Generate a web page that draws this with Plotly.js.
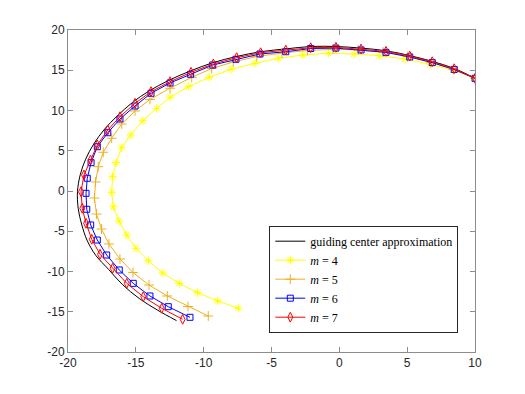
<!DOCTYPE html>
<html>
<head>
<meta charset="utf-8">
<script src="https://cdn.plot.ly/plotly-3.0.1.min.js"></script>
<style>
  body { margin: 0; background: #fff; }
  #plot { width: 525px; height: 394px; }
</style>
</head>
<body>
<div id="plot"></div>
<script>
// guiding center approximation (black line)
let gcX = [10, 8.47, 6.85, 5.19, 3.44, 1.6, -0.25, -2.11, -3.95, -5.8, -7.6, -9.35, -11.0, -12.6, -14.0, -15.25, -16.35, -17.3, -18.1, -18.7, -19.1, -19.3, -19.25, -19.0, -18.6, -17.95, -17.0, -16.0, -14.75, -13.4, -12.0];
let gcY = [14.0, 15.22, 16.1, 16.82, 17.42, 17.75, 17.95, 17.95, 17.65, 17.3, 16.7, 15.92, 14.9, 13.72, 12.45, 11.0, 9.35, 7.7, 5.85, 3.95, 2.0, -0.05, -2.15, -4.1, -6.1, -8.0, -9.75, -11.6, -13.35, -14.8, -16.1];

// m = 4
let m4X = [10, 8.4, 6.68, 4.84, 2.95, 1.1, -0.81, -2.7, -4.5, -6.22, -7.99, -9.59, -11.13, -12.48, -13.46, -14.49, -15.38, -16.04, -16.46, -16.71, -16.78, -16.66, -16.24, -15.67, -14.99, -14.08, -13.02, -11.8, -10.44, -8.97, -7.45];
let m4Y = [14.0, 15.03, 15.74, 16.4, 16.81, 17.02, 17.11, 16.89, 16.48, 15.86, 15.12, 14.12, 12.96, 11.64, 10.27, 8.73, 6.96, 5.38, 3.52, 1.78, -0.16, -1.95, -3.73, -5.47, -7.12, -8.66, -10.19, -11.47, -12.63, -13.66, -14.57];

// m = 5
let m5X = [10, 8.41, 6.76, 5.02, 3.22, 1.38, -0.47, -2.35, -4.23, -6.09, -7.82, -9.41, -10.88, -12.48, -13.96, -15.06, -16.04, -16.78, -17.4, -17.77, -17.97, -18.05, -17.9, -17.53, -16.98, -16.17, -15.21, -14.03, -12.68, -11.15, -9.66];
let m5Y = [14.0, 15.09, 15.96, 16.71, 17.27, 17.54, 17.6, 17.45, 17.14, 16.71, 16.02, 15.22, 14.12, 12.76, 11.37, 9.94, 8.32, 6.55, 4.81, 3.02, 1.12, -0.87, -2.86, -4.72, -6.58, -8.45, -10.12, -11.68, -13.04, -14.35, -15.53];

// m = 6
let m6X = [10, 8.47, 6.85, 5.19, 3.44, 1.6, -0.25, -2.11, -3.95, -5.85, -7.62, -9.33, -10.96, -12.48, -13.88, -15.06, -16.17, -17.07, -17.84, -18.3, -18.58, -18.67, -18.62, -18.33, -17.84, -17.15, -16.22, -15.19, -13.96, -12.61, -11.01];
let m6Y = [14.0, 15.1, 15.95, 16.65, 17.22, 17.52, 17.75, 17.7, 17.3, 17.02, 16.36, 15.65, 14.5, 13.42, 12.14, 10.56, 8.94, 7.24, 5.5, 3.52, 1.58, -0.29, -2.27, -4.22, -6.09, -7.95, -9.81, -11.47, -13.04, -14.37, -15.69];

// m = 7
let m7X = [10, 8.47, 6.85, 5.19, 3.44, 1.6, -0.25, -2.11, -3.95, -5.8, -7.57, -9.29, -10.93, -12.48, -13.88, -15.06, -16.17, -17.07, -17.84, -18.34, -18.82, -19.04, -18.95, -18.67, -18.25, -17.64, -16.71, -15.67, -14.45, -13.09, -11.55];
let m7Y = [14.0, 15.19, 16.06, 16.77, 17.35, 17.64, 17.85, 17.8, 17.5, 17.18, 16.56, 15.78, 14.75, 13.58, 12.34, 10.89, 9.23, 7.58, 5.71, 3.85, 1.99, -0.09, -2.15, -4.01, -6.0, -7.86, -9.6, -11.47, -13.13, -14.57, -15.94];

// tick values and labels (plain hyphen like the original)
let xTickVals = [-20, -15, -10, -5, 0, 5, 10];
let xTickText = ["-20", "-15", "-10", "-5", "0", "5", "10"];
let yTickVals = [-20, -15, -10, -5, 0, 5, 10, 15, 20];
let yTickText = ["-20", "-15", "-10", "-5", "0", "5", "10", "15", "20"];

// Trace1 guiding center
let trace1 = {
    x: gcX,
    y: gcY,
    name: "guiding center approximation",
    mode: "lines",
    line: {color: "#000000", width: 1, shape: "spline"},
    type: "scatter"
};

// Trace2 m = 4
let trace2 = {
    x: m4X,
    y: m4Y,
    name: "<i>m</i> = 4",
    mode: "lines+markers",
    line: {color: "#ffff00", width: 1},
    marker: {symbol: "asterisk-open", size: 7, line: {color: "#ffff00", width: 1}},
    type: "scatter"
};

// Trace3 m = 5
let trace3 = {
    x: m5X,
    y: m5Y,
    name: "<i>m</i> = 5",
    mode: "lines+markers",
    line: {color: "#edb120", width: 1},
    marker: {symbol: "cross-thin-open", size: 7, line: {color: "#edb120", width: 1}},
    type: "scatter"
};

// Trace4 m = 6
let trace4 = {
    x: m6X,
    y: m6Y,
    name: "<i>m</i> = 6",
    mode: "lines+markers",
    line: {color: "#0000ff", width: 1},
    marker: {symbol: "square-open", size: 6, color: "#0000ff", line: {color: "#0000ff", width: 1}},
    type: "scatter"
};

// Trace5 m = 7
let trace5 = {
    x: m7X,
    y: m7Y,
    name: "<i>m</i> = 7",
    mode: "lines+markers",
    line: {color: "#ff0000", width: 1},
    marker: {symbol: "diamond-tall-open", size: 7, color: "#ff0000", line: {color: "#ff0000", width: 1}},
    type: "scatter"
};

let data = [trace1, trace2, trace3, trace4, trace5];

let axisStyle = {
    showgrid: false,
    zeroline: false,
    showline: true,
    mirror: "ticks",
    linecolor: "#8c8c8c",
    linewidth: 1,
    ticks: "inside",
    ticklen: 5,
    tickcolor: "#8c8c8c",
    tickwidth: 1,
    tickmode: "array",
    tickfont: {family: "Liberation Sans, Arial, sans-serif", size: 12, color: "#262626"}
};

let layout = {
    width: 525,
    height: 394,
    margin: {l: 68, r: 50, t: 30, b: 42},
    paper_bgcolor: "#ffffff",
    plot_bgcolor: "#ffffff",
    showlegend: true,
    hovermode: false,
    xaxis: Object.assign({}, axisStyle, {range: [-20, 10], tickvals: xTickVals, ticktext: xTickText}),
    yaxis: Object.assign({}, axisStyle, {range: [-20, 20], tickvals: yTickVals, ticktext: yTickText}),
    legend: {
        x: 0.4946,
        y: 0.06,
        xanchor: "left",
        yanchor: "bottom",
        bgcolor: "#ffffff",
        bordercolor: "#262626",
        borderwidth: 1,
        font: {family: "Liberation Serif, DejaVu Serif, serif", size: 12, color: "#000000"}
    }
};

Plotly.newPlot("plot", data, layout, {displayModeBar: false, staticPlot: true});
</script>
</body>
</html>
